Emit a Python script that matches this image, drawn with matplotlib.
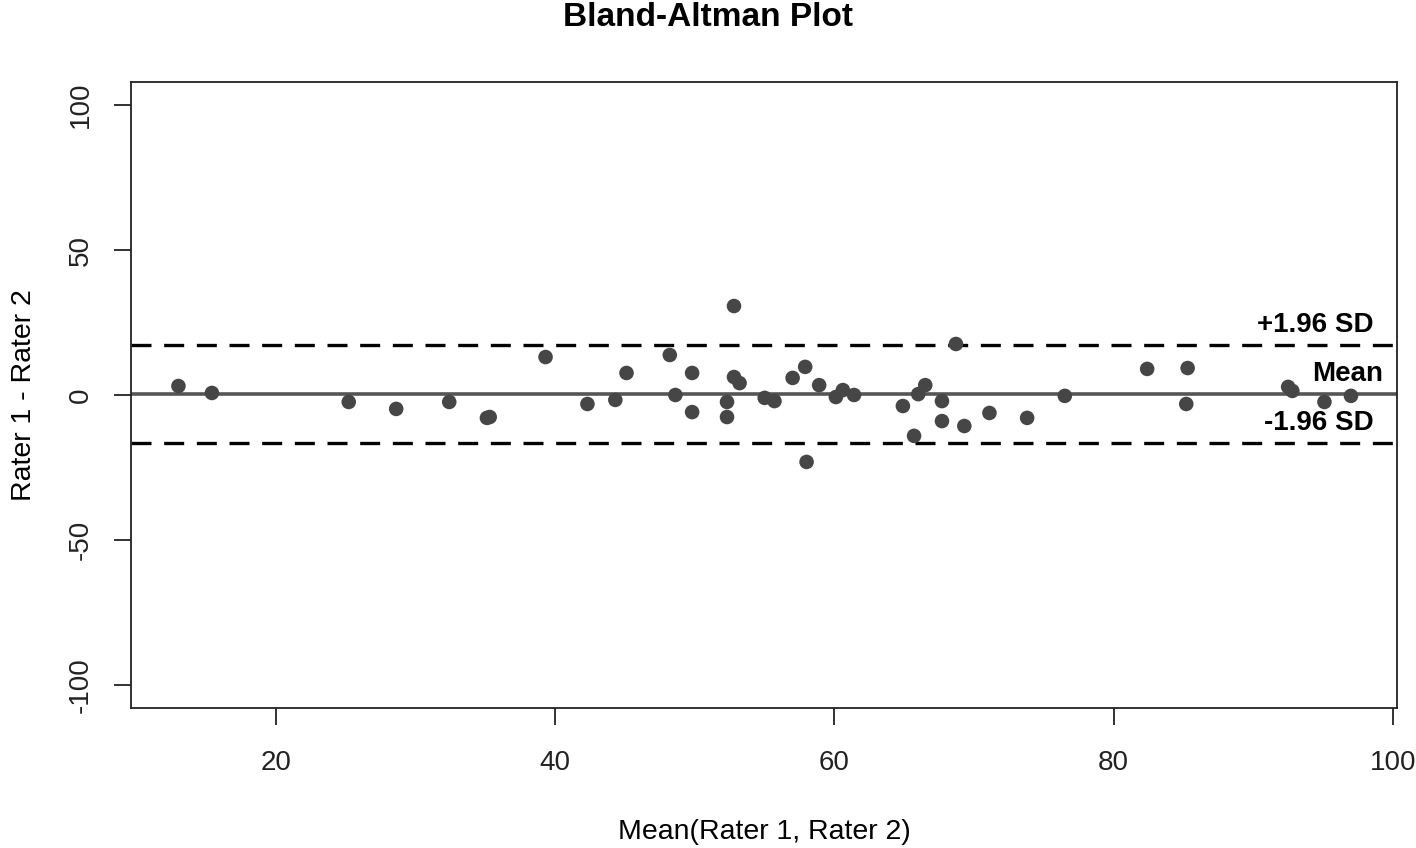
import numpy as np
import matplotlib
matplotlib.use("Agg")
import matplotlib.pyplot as plt

plt.rcParams["font.family"] = ["Liberation Sans", "DejaVu Sans"]

# ===== Data (mean of raters, difference) =====
mean_vals = [13.0, 15.4, 25.2, 28.6, 32.4, 35.1, 35.3, 39.3, 42.3, 44.3,
             45.1, 48.2, 48.6, 49.8, 49.8, 52.8, 52.3, 52.3, 52.8, 53.2,
             55.0, 55.7, 57.0, 57.9, 58.0, 58.9, 60.1, 60.6, 61.4, 64.9,
             66.0, 66.5, 65.7, 67.7, 67.7, 68.7, 69.3, 71.1, 73.8, 76.5,
             82.4, 85.3, 85.2, 92.5, 92.8, 95.1, 97.0]
diff_vals = [3.1, 0.7, -2.4, -4.8, -2.4, -7.9, -7.6, 13.1, -3.1, -1.7,
             7.6, 13.8, 0.0, 7.6, -5.9, 30.7, -2.4, -7.6, 6.2, 4.1,
             -1.0, -2.1, 5.9, 9.7, -23.1, 3.4, -0.7, 1.7, 0.0, -3.8,
             0.3, 3.4, -14.1, -2.1, -9.0, 17.6, -10.7, -6.2, -7.9, -0.3,
             9.0, 9.3, -3.1, 2.8, 1.4, -2.4, -0.3]

x = np.array(mean_vals)
d = np.array(diff_vals)
md = d.mean()
sd = d.std(ddof=1)
upper = md + 1.96 * sd
lower = md - 1.96 * sd
print(f"mean={md:.2f} sd={sd:.2f} limits=({lower:.2f}, {upper:.2f})")

# ===== Figure =====
fig = plt.figure(figsize=(14.16, 8.48), dpi=100)
ax = fig.add_axes([0.0925, 0.1651, 0.8941, 0.7382])

ax.scatter(x, d, s=110, color="#464646", edgecolors="none", zorder=3)
ax.axhline(md, color="#555555", linewidth=2.6, zorder=2)
for lim in (upper, lower):
    ax.axhline(lim, color="black", linewidth=2.4, linestyle=(0, (6, 3.8)), zorder=2)

ax.text(98.6, 24.1, "+1.96 SD", ha="right", va="center",
        fontsize=20, fontweight="bold")
ax.text(99.3, 7.2, "Mean", ha="right", va="center",
        fontsize=20, fontweight="bold")
ax.text(98.6, -9.7, "-1.96 SD", ha="right", va="center",
        fontsize=20, fontweight="bold")

ax.set_xlim(9.6, 100.3)
ax.set_ylim(-108, 108)
ax.set_xticks([20, 40, 60, 80, 100])
ax.set_yticks([-100, -50, 0, 50, 100])
ax.set_yticklabels(["-100", "-50", "0", "50", "100"], rotation=90, va="center")
ax.tick_params(direction="out", length=12, width=1.3, labelsize=20, colors="#222222")
ax.tick_params(axis="x", pad=18)
ax.tick_params(axis="y", pad=15)
for s in ax.spines.values():
    s.set_linewidth(1.3)
    s.set_color("#222222")

ax.set_xlabel("Mean(Rater 1, Rater 2)", fontsize=20.5, labelpad=31)
ax.set_ylabel("Rater 1 - Rater 2", fontsize=20.5, labelpad=22)
fig.suptitle("Bland-Altman Plot", fontsize=24, fontweight="bold", y=0.998)

fig.savefig("out.png", dpi=100)
